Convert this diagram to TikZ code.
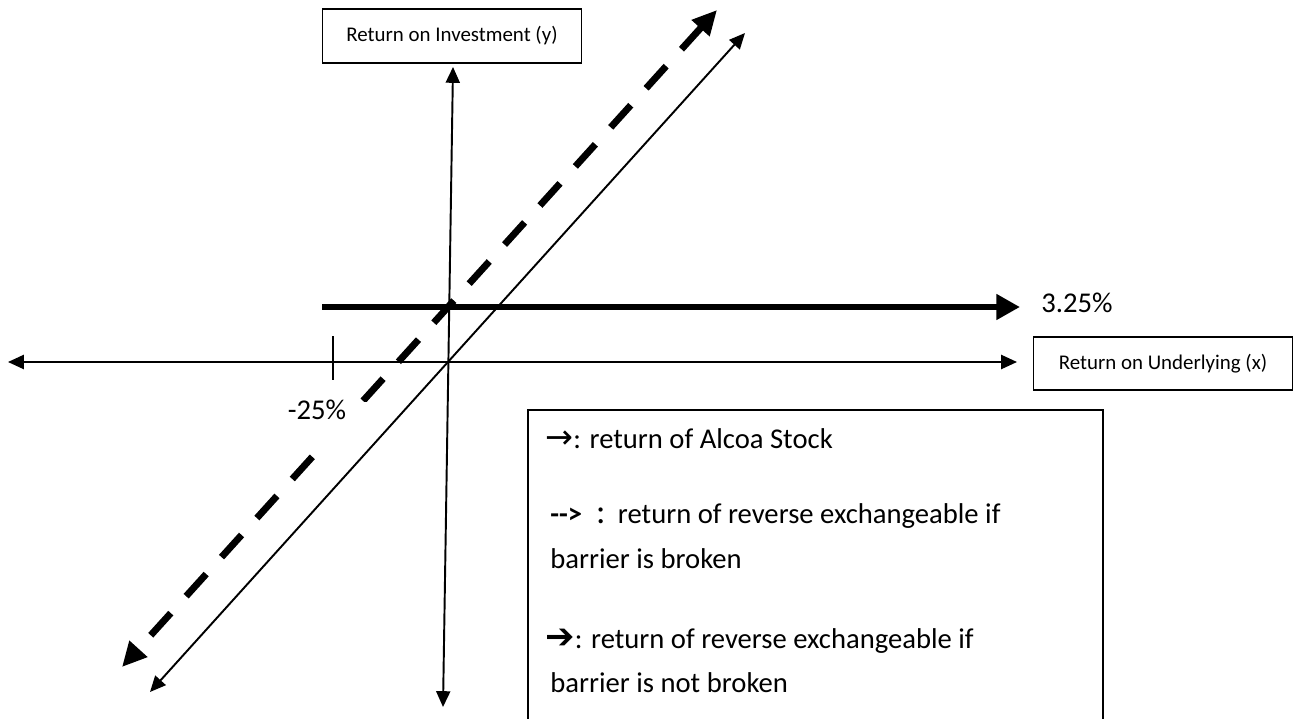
\documentclass[tikz,border=0pt]{standalone}
\usepackage{fontspec}
\setmainfont{Carlito}
\newfontfamily\arrowfont{DejaVu Sans}
\usetikzlibrary{arrows.meta, positioning}

\begin{document}
\begin{tikzpicture}[x=0.02cm, y=-0.02cm,
    thinaxis/.style={line width=1.1pt, {Triangle[length=9pt,width=8pt]}-{Triangle[length=9pt,width=8pt]}},
    boldline/.style={line width=3.9pt, -{Triangle[length=13.5pt,width=14pt]}},
    barrierline/.style={line width=3.9pt, dash pattern=on 17pt off 13pt,
        {Triangle[length=14pt,width=13pt]}-{Triangle[length=14pt,width=13pt]}},
    axisbox/.style={draw, line width=0.8pt, inner sep=0pt, minimum width=5.18cm, minimum height=1.08cm,
        font=\fontsize{11.9}{14}\selectfont},
    bigtext/.style={inner sep=0pt, font=\fontsize{16.3}{19}\selectfont},
    legendtext/.style={bigtext, anchor=base west}]
    \useasboundingbox (0,0) rectangle (1300,719);

    % axes
    \coordinate (ytop) at (453,67);
    \coordinate (ybot) at (443,707);
    \coordinate (xleft) at (8,362);
    \coordinate (xright) at (1017,362);
    \draw[thinaxis] (ybot) -- (ytop);
    \draw[thinaxis] (xleft) -- (xright);
    \node[axisbox] (ybox) at (452,36) {Return on Investment (y)};
    \node[axisbox, minimum height=1.06cm] (xbox) at (1163,363.5) {Return on Underlying (x)};

    % barrier tick
    \coordinate (tickup) at (333,336);
    \coordinate (tickdn) at (333,380);
    \draw[line width=1.1pt] (tickup) -- (tickdn);

    % payoff lines
    \coordinate (stocklo) at (150,692);
    \coordinate (stockhi) at (745,33);
    \draw[thinaxis] (stocklo) -- (stockhi);
    \coordinate (brokenlo) at (122,667);
    \coordinate (brokenhi) at (717,10);
    \draw[barrierline] (brokenhi) -- (brokenlo);
    \node[bigtext, anchor=base, fill=white, minimum width=2.2cm, text height=9.6pt, text depth=14.7pt]
        (barrier) at (317,419) {-25\%};
    \coordinate (capstart) at (322,307);
    \coordinate (capend) at (1020,307);
    \draw[boldline] (capstart) -- (capend);
    \node[legendtext] (caplabel) at (1041,313) {3.25\%};

    % legend
    \draw[line width=0.8pt] (528,722) |- (1103,410) -- (1103,722);
    \node[legendtext] (leg1) at (545,448) {{\arrowfont\fontsize{19}{19}\selectfont →}: return of Alcoa Stock};
    \node[legendtext] (leg2) at (550,523) {\textbf{-{}-{}>}\hspace{8pt}{\fontsize{20}{20}\selectfont :}\hspace{7pt}return of reverse exchangeable if};
    \node[legendtext] (leg3) at (550,568) {barrier is broken};
    \node[legendtext] (leg4) at (545,648) {{\arrowfont\fontsize{20}{20}\selectfont ➔}: return of reverse exchangeable if};
    \node[legendtext] (leg5) at (550,692) {barrier is not broken};
\end{tikzpicture}
\end{document}
